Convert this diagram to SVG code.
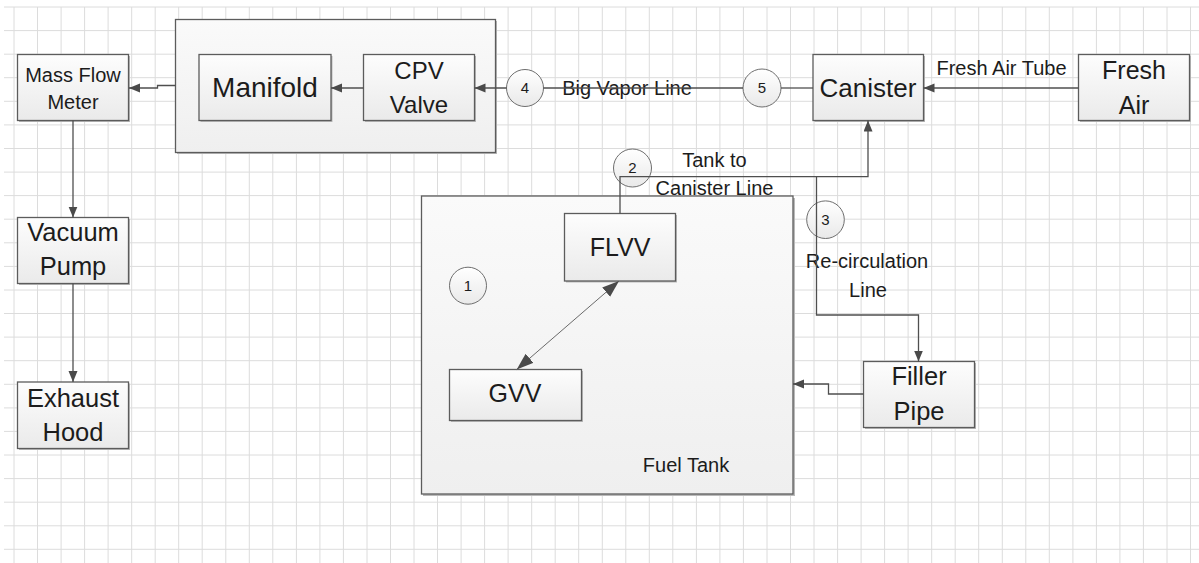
<svg xmlns="http://www.w3.org/2000/svg" width="1199" height="563" viewBox="0 0 1199 563">
<defs>
<linearGradient id="gb" x1="0" y1="0" x2="0" y2="1"><stop offset="0" stop-color="#fdfdfd"/><stop offset="1" stop-color="#eaeaea"/></linearGradient>
<linearGradient id="gl" x1="0" y1="0" x2="0" y2="1"><stop offset="0" stop-color="#fafafa"/><stop offset="1" stop-color="#efefef"/></linearGradient>
<linearGradient id="gc" x1="0" y1="0" x2="0" y2="1"><stop offset="0" stop-color="#ffffff"/><stop offset="1" stop-color="#e9e9e9"/></linearGradient>
<marker id="ah" markerUnits="userSpaceOnUse" markerWidth="12" markerHeight="10" refX="11" refY="4.5" orient="auto"><path d="M0,0 L11,4.5 L0,9 z" fill="#4a4a4a"/></marker>
<marker id="ab" markerUnits="userSpaceOnUse" markerWidth="18" markerHeight="13" refX="17" refY="6" orient="auto-start-reverse"><path d="M0,0 L17,6 L0,12 z" fill="#4a4a4a"/></marker>
</defs>
<style>
.grid{fill:none;stroke:#dcdcdc;stroke-width:1}
.box{fill:url(#gb);stroke:#5c5c5c;stroke-width:1.3}
.big{fill:url(#gl);stroke:#5c5c5c;stroke-width:1.3}
.sh{fill:#b9b9b9}
.circ{fill:url(#gc);stroke:#6e6e6e;stroke-width:1}
.t{font-family:"Liberation Sans",Arial,sans-serif;fill:#1c1c1c;text-anchor:middle}
.n{font-size:15px}
.lb{font-size:20px}
.c{fill:none;stroke:#4f4f4f;stroke-width:1.3}
.thin{fill:none;stroke:#6a6a6a;stroke-width:1}
</style>
<rect width="1199" height="563" fill="#ffffff"/>
<path class="grid" d="M14,7V563M37.5,7V563M61.1,7V563M84.6,7V563M108.1,7V563M131.7,7V563M155.2,7V563M178.7,7V563M202.2,7V563M225.8,7V563M249.3,7V563M272.8,7V563M296.4,7V563M319.9,7V563M343.4,7V563M367,7V563M390.5,7V563M414,7V563M437.5,7V563M461.1,7V563M484.6,7V563M508.1,7V563M531.7,7V563M555.2,7V563M578.7,7V563M602.3,7V563M625.8,7V563M649.3,7V563M672.8,7V563M696.4,7V563M719.9,7V563M743.4,7V563M767,7V563M790.5,7V563M814,7V563M837.6,7V563M861.1,7V563M884.6,7V563M908.1,7V563M931.7,7V563M955.2,7V563M978.7,7V563M1002.3,7V563M1025.8,7V563M1049.3,7V563M1072.9,7V563M1096.4,7V563M1119.9,7V563M1143.4,7V563M1167,7V563M1190.5,7V563M4,7H1199M4,30.6H1199M4,54.2H1199M4,77.7H1199M4,101.3H1199M4,124.9H1199M4,148.5H1199M4,172.1H1199M4,195.6H1199M4,219.2H1199M4,242.8H1199M4,266.4H1199M4,290H1199M4,313.5H1199M4,337.1H1199M4,360.7H1199M4,384.3H1199M4,407.9H1199M4,431.4H1199M4,455H1199M4,478.6H1199M4,502.2H1199M4,525.8H1199M4,549.3H1199"/>

<g id="manifold-group">
<rect class="sh" x="177" y="21" width="320" height="133"/>
<rect class="big" x="175.5" y="19.5" width="320" height="133"/>
</g>
<g id="fuel-tank">
<rect class="sh" x="423" y="198" width="372" height="298"/>
<rect class="big" x="421.5" y="196" width="371.5" height="298"/>
<text class="t lb" x="686" y="471.5">Fuel Tank</text>
</g>
<g id="mass-flow-meter">
<rect class="sh" x="19" y="56" width="111" height="66"/>
<rect class="box" x="17.5" y="54.5" width="111" height="66"/>
<text class="t" font-size="20" x="73" y="81.5">Mass Flow</text>
<text class="t" font-size="20" x="73" y="109">Meter</text>
</g>
<g id="manifold">
<rect class="sh" x="200.5" y="56" width="132" height="66"/>
<rect class="box" x="199" y="54.5" width="132" height="66"/>
<text class="t" font-size="28" x="265" y="97">Manifold</text>
</g>
<g id="cpv-valve">
<rect class="sh" x="365" y="56" width="111" height="66"/>
<rect class="box" x="363.5" y="54.5" width="111" height="66"/>
<text class="t" font-size="24" x="419" y="79">CPV</text>
<text class="t" font-size="24" x="419" y="113">Valve</text>
</g>
<g id="canister">
<rect class="sh" x="814.5" y="56" width="110.5" height="66"/>
<rect class="box" x="813" y="54.5" width="110.5" height="66"/>
<text class="t" font-size="26" x="868" y="97">Canister</text>
</g>
<g id="fresh-air">
<rect class="sh" x="1080" y="56" width="111" height="66"/>
<rect class="box" x="1078.5" y="54.5" width="111" height="66"/>
<text class="t" font-size="25" x="1134" y="79">Fresh</text>
<text class="t" font-size="25" x="1134" y="114">Air</text>
</g>
<g id="vacuum-pump">
<rect class="sh" x="19" y="219" width="111" height="66"/>
<rect class="box" x="17.5" y="217.5" width="111" height="66"/>
<text class="t" font-size="25.5" x="73" y="241">Vacuum</text>
<text class="t" font-size="25.5" x="73" y="275">Pump</text>
</g>
<g id="exhaust-hood">
<rect class="sh" x="19" y="383.5" width="111" height="66.5"/>
<rect class="box" x="17.5" y="382" width="111" height="66.5"/>
<text class="t" font-size="25.5" x="73" y="406.5">Exhaust</text>
<text class="t" font-size="25.5" x="73" y="440.5">Hood</text>
</g>
<g id="flvv">
<rect class="sh" x="566" y="215" width="111" height="67.5"/>
<rect class="box" x="564.5" y="213.5" width="111" height="67.5"/>
<text class="t" font-size="25" x="620" y="256">FLVV</text>
</g>
<g id="gvv">
<rect class="sh" x="451" y="371" width="132" height="51"/>
<rect class="box" x="449.5" y="369.5" width="132" height="51"/>
<text class="t" font-size="25" x="515" y="401.5">GVV</text>
</g>
<g id="filler-pipe">
<rect class="sh" x="865" y="363" width="111" height="66"/>
<rect class="box" x="863.5" y="361.5" width="111" height="66"/>
<text class="t" font-size="25.5" x="919" y="385">Filler</text>
<text class="t" font-size="25.5" x="919" y="420">Pipe</text>
</g>
<g id="marker-1">
<circle class="circ" cx="468" cy="285.7" r="18.5"/>
<text class="t n" x="468" y="291">1</text>
</g>
<g id="marker-2">
<circle class="circ" cx="632.5" cy="168" r="19"/>
<text class="t n" x="632.5" y="173.3">2</text>
</g>
<g id="marker-3">
<circle class="circ" cx="825.5" cy="219.7" r="18.8"/>
<text class="t n" x="825.5" y="225">3</text>
</g>
<g id="marker-4">
<circle class="circ" cx="525" cy="88" r="18.5"/>
<text class="t n" x="525" y="93.3">4</text>
</g>
<g id="marker-5">
<circle class="circ" cx="762" cy="88" r="19"/>
<text class="t n" x="762" y="93.3">5</text>
</g>
<g id="labels">
<text class="t lb" x="627" y="95">Big Vapor Line</text>
<text class="t lb" x="714.5" y="166.7">Tank to</text>
<text class="t lb" x="714.5" y="195">Canister Line</text>
<text class="t lb" x="1001.5" y="75">Fresh Air Tube</text>
<text class="t lb" x="867" y="268.3">Re-circulation</text>
<text class="t lb" x="868" y="296.7">Line</text>
</g>
<g id="connectors">
<path class="c" d="M175.5,85.5H157.5V88H129" marker-end="url(#ah)"/>
<path class="c" d="M363.5,88H331" marker-end="url(#ah)"/>
<path class="c" d="M506.5,88H474.5" marker-end="url(#ah)"/>
<path class="c" d="M743,88H543.5"/>
<path class="c" d="M813,88H781"/>
<path class="c" d="M1078.5,88H923.5" marker-end="url(#ah)"/>
<path class="c" d="M620,213.5V176.7H868V120.5" marker-end="url(#ah)"/>
<path class="c" d="M816.5,176.7V315H918.5V361.5" marker-end="url(#ah)"/>
<path class="c" d="M863.5,394H828.5V384H793" marker-end="url(#ah)"/>
<path class="c" d="M73,120.5V217.5" marker-end="url(#ah)"/>
<path class="c" d="M73,283.5V382" marker-end="url(#ah)"/>
<path class="thin" d="M516.7,369.5L619,281" marker-start="url(#ab)" marker-end="url(#ab)"/>
</g>
</svg>
